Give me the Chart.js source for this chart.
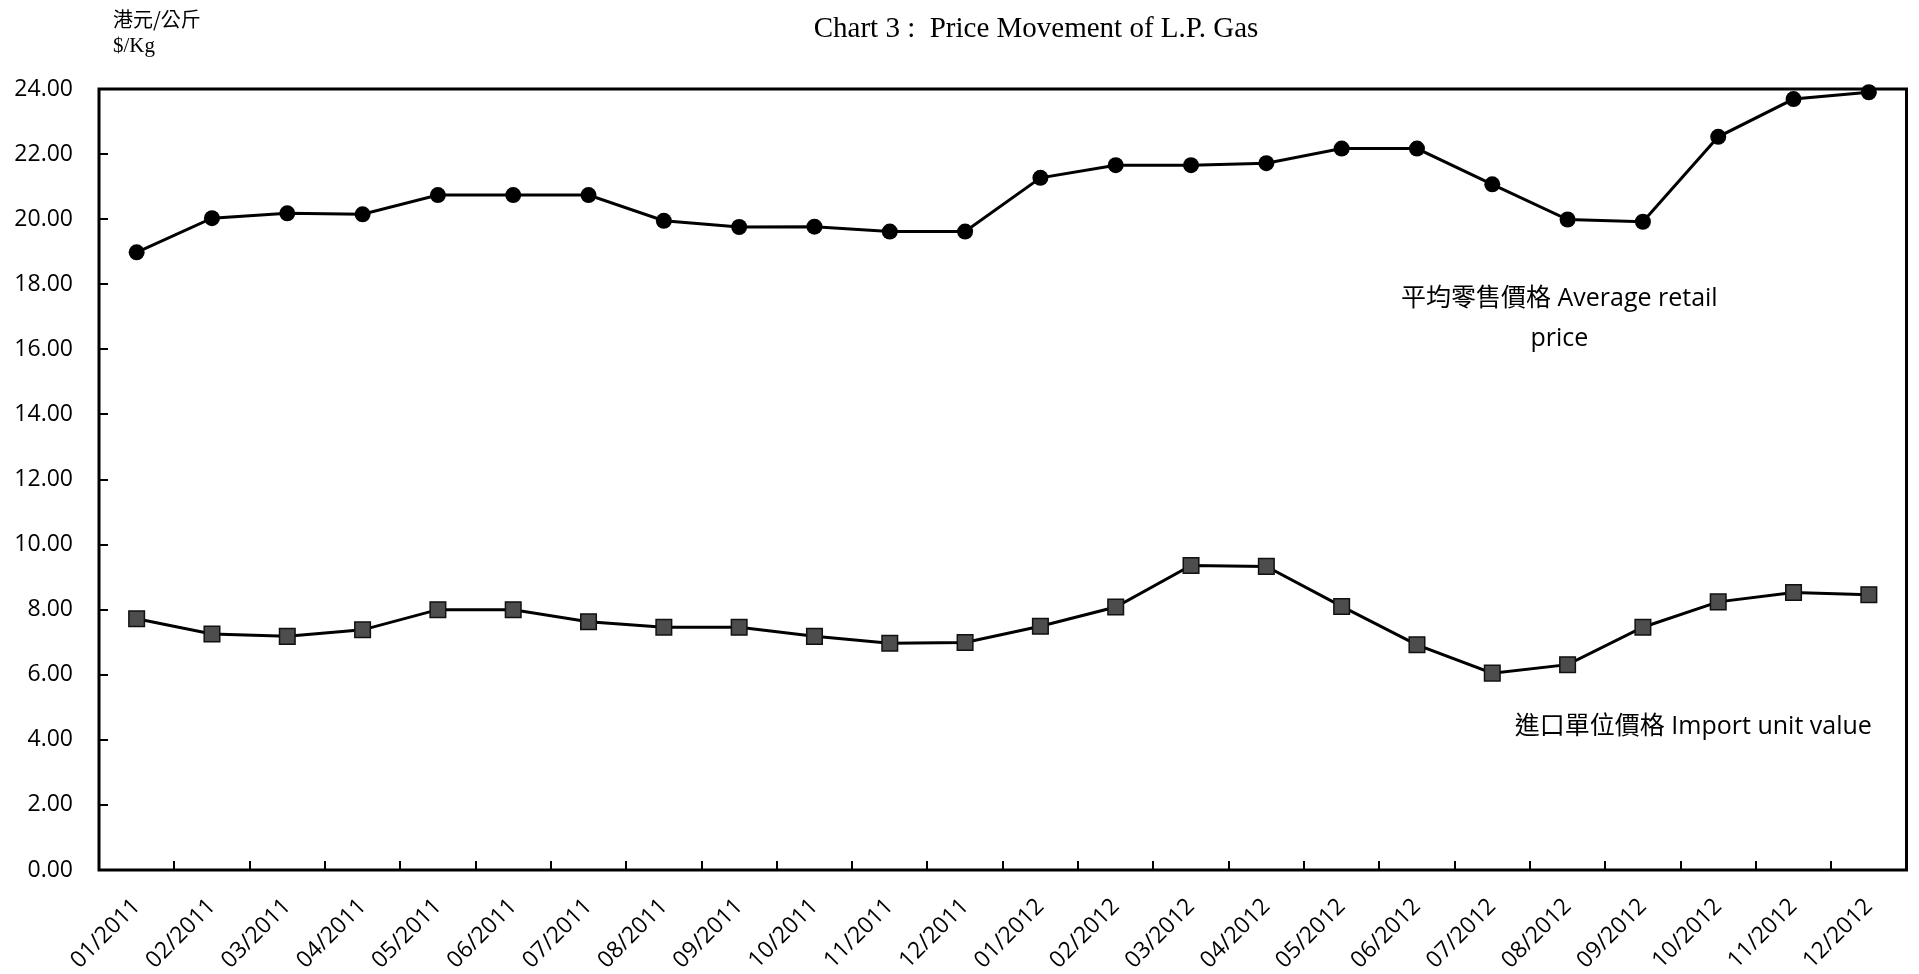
<!DOCTYPE html>
<html>
<head>
<meta charset="utf-8">
<script src="https://cdn.jsdelivr.net/npm/chart.js@4"></script>
<style>
  html, body { margin: 0; padding: 0; background: #fff; }
  canvas { display: block; }
</style>
</head>
<body>
<canvas id="chartLPG" width="1919" height="974"></canvas>
<script>
const months = ['01/2011', '02/2011', '03/2011', '04/2011', '05/2011', '06/2011',
    '07/2011', '08/2011', '09/2011', '10/2011', '11/2011', '12/2011',
    '01/2012', '02/2012', '03/2012', '04/2012', '05/2012', '06/2012',
    '07/2012', '08/2012', '09/2012', '10/2012', '11/2012', '12/2012']

// 平均零售價格 (circles)
const retailPrice = [18.98, 20.03, 20.18, 20.15, 20.74, 20.74, 20.74, 19.95, 19.76, 19.77, 19.62, 19.62,
    21.27, 21.66, 21.66, 21.72, 22.17, 22.17, 21.07, 19.99, 19.92, 22.53, 23.69, 23.90]

// 進口單位價格 (squares)
const importValue = [7.72, 7.25, 7.18, 7.38, 8.00, 8.00, 7.63, 7.46, 7.46, 7.18, 6.97, 6.99,
    7.49, 8.08, 9.36, 9.33, 8.10, 6.92, 6.05, 6.31, 7.46, 8.24, 8.53, 8.46]

const chartTitle = 'Chart 3 :  Price Movement of L.P. Gas'
const unitLines = ['港元/公斤', '$/Kg']
const retailLabel = ['平均零售價格 Average retail', 'price']
const importLabel = '進口單位價格 Import unit value'

const sansFont = '"Open Sans", "Noto Sans CJK TC", sans-serif'

// box, inward tick marks and all the loose texts
const decorPlugin = {
    id: 'decor',
    beforeDatasetsDraw(chart) {
        const { ctx, chartArea: a, scales: { x, y } } = chart
        ctx.save()
        ctx.strokeStyle = '#000'
        ctx.lineWidth = 2
        y.ticks.forEach((t) => {
            const py = Math.round(y.getPixelForValue(t.value))
            ctx.beginPath()
            ctx.moveTo(a.left, py)
            ctx.lineTo(a.left + 9, py)
            ctx.stroke()
        })
        for (let i = 0; i < months.length - 1; i++) {
            const px = Math.round((x.getPixelForValue(i) + x.getPixelForValue(i + 1)) / 2)
            ctx.beginPath()
            ctx.moveTo(px, a.bottom)
            ctx.lineTo(px, a.bottom - 9)
            ctx.stroke()
        }
        ctx.lineWidth = 3
        ctx.strokeRect(a.left, a.top, a.right - a.left, a.bottom - a.top)
        ctx.restore()
    },
    afterDraw(chart) {
        const { ctx, scales: { x, y } } = chart
        ctx.save()
        ctx.fillStyle = '#000'
        ctx.textBaseline = 'alphabetic'

        ctx.textAlign = 'center'
        ctx.font = '29px "Liberation Serif", serif'
        ctx.fillText(chartTitle, 1036, 37)

        ctx.textAlign = 'left'
        ctx.font = '20px "Noto Sans CJK TC", sans-serif'
        ctx.fillText(unitLines[0], 113, 27)
        ctx.font = '21px "Liberation Serif", serif'
        ctx.fillText(unitLines[1], 113, 52)

        ctx.textAlign = 'center'
        ctx.font = '25px ' + sansFont
        const rx = x.getPixelForValue(18.89)
        ctx.fillText(retailLabel[0], rx, y.getPixelForValue(17.32))
        ctx.fillText(retailLabel[1], rx, y.getPixelForValue(16.09))
        ctx.fillText(importLabel, x.getPixelForValue(20.67), y.getPixelForValue(4.18))
        ctx.restore()
    }
}

const data = {
    labels: months,
    datasets: [{
        label: '平均零售價格 Average retail price',
        data: retailPrice,
        borderColor: '#000',
        borderWidth: 3,
        backgroundColor: '#000',
        pointStyle: 'circle',
        pointRadius: 8,
        pointBorderWidth: 0,
        pointBackgroundColor: '#000',
        tension: 0,
        clip: false
    }, {
        label: '進口單位價格 Import unit value',
        data: importValue,
        borderColor: '#000',
        borderWidth: 3,
        backgroundColor: '#4a4a4a',
        pointStyle: 'rect',
        pointRadius: 11,
        pointBorderWidth: 1.5,
        pointBorderColor: '#111',
        pointBackgroundColor: '#4d4d4d',
        tension: 0,
        clip: false
    }]
}

const config = {
    type: 'line',
    data: data,
    options: {
        responsive: false,
        animation: false,
        layout: { padding: { top: 89, right: 7, left: 0, bottom: 0 } },
        plugins: {
            legend: { display: false },
            title: { display: false },
            tooltip: { enabled: false }
        },
        scales: {
            x: {
                offset: true,
                border: { display: false },
                grid: { display: false, drawTicks: false },
                ticks: {
                    autoSkip: false,
                    minRotation: 45,
                    maxRotation: 45,
                    padding: 23,
                    color: '#000',
                    font: { family: sansFont, size: 23 }
                },
                afterFit: (scale) => { scale.height = 104 }
            },
            y: {
                min: 0,
                max: 24,
                border: { display: false },
                grid: { display: false, drawTicks: false },
                ticks: {
                    stepSize: 2,
                    padding: 26,
                    color: '#000',
                    font: { family: sansFont, size: 23 },
                    callback: (v) => Number(v).toFixed(2)
                },
                afterFit: (scale) => { scale.width = 99 }
            }
        }
    },
    plugins: [decorPlugin]
}

const ctxLPG = document.getElementById('chartLPG')

new Chart(ctxLPG, config)
</script>
</body>
</html>
